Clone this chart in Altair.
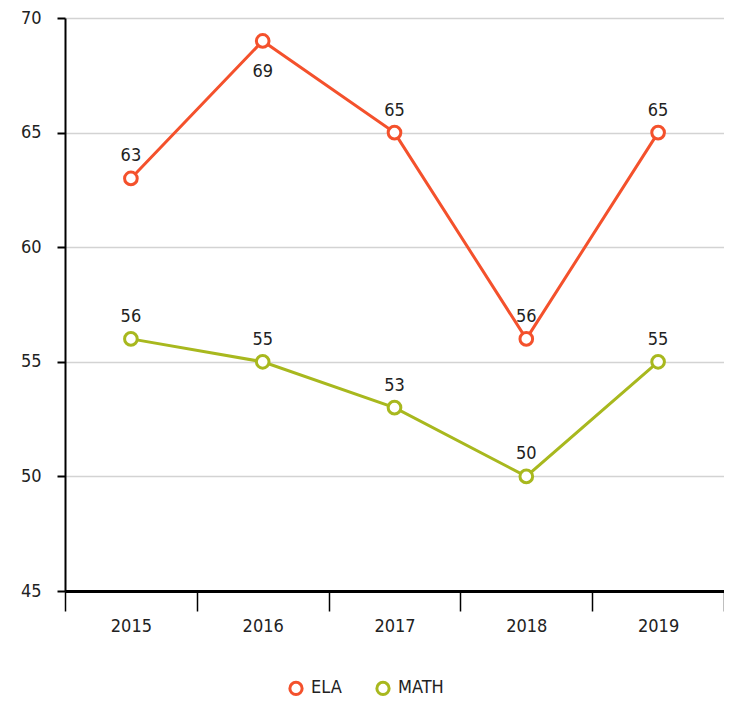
import altair as alt
import pandas as pd

years = ["2015", "2016", "2017", "2018", "2019"]
ela = [63, 69, 65, 56, 65]
math = [56, 55, 53, 50, 55]
ela_label_pos = ["above", "below", "above", "above", "above"]
math_label_pos = ["above", "above", "above", "above", "above"]

rows = []
for y, v, p in zip(years, ela, ela_label_pos):
    rows.append({"year": y, "value": v, "subject": "ELA", "pos": p})
for y, v, p in zip(years, math, math_label_pos):
    rows.append({"year": y, "value": v, "subject": "MATH", "pos": p})
df = pd.DataFrame(rows)

FONT = "DejaVu Sans Condensed, DejaVu Sans Mono"
FS = 18
color = alt.Color(
    "subject:N",
    scale=alt.Scale(domain=["ELA", "MATH"], range=["#f4512c", "#a8b81e"]),
    legend=alt.Legend(
        title=None, orient="none", direction="horizontal",
        legendX=222, legendY=661,
        symbolType="circle", symbolStrokeWidth=3, symbolSize=150,
        symbolFillColor="white", labelFontSize=FS, labelFont=FONT,
        labelColor="#222", columnPadding=28, labelOffset=6,
    ),
)

x = alt.X(
    "year:N", sort=years, title=None,
    axis=alt.Axis(
        labelAngle=0, tickBand="extent", tickSize=20, tickColor="#000",
        tickWidth=1.5, domainColor="#000", domainWidth=3, grid=False,
        labelFontSize=FS, labelFont=FONT, labelColor="#222", labelPadding=6,
    ),
    scale=alt.Scale(paddingInner=0, paddingOuter=0),
)
y = alt.Y(
    "value:Q", title=None,
    scale=alt.Scale(domain=[45, 70], nice=False, zero=False),
    axis=alt.Axis(
        values=[45, 50, 55, 60, 65, 70], tickSize=8, tickColor="#000",
        tickWidth=2, domainColor="#000", domainWidth=2, grid=True,
        gridColor="#d3d3d3", gridWidth=1.5, labelFontSize=FS, labelFont=FONT,
        labelColor="#222", labelPadding=16,
    ),
)

base = alt.Chart(df).encode(x=x, y=y, color=color)
lines = base.mark_line(strokeWidth=3)
points = base.mark_point(filled=False, fill="white", size=160, strokeWidth=3, opacity=1)
above = base.mark_text(dy=-22, fontSize=FS, font=FONT, color="#222").encode(
    text="value:Q", color=alt.value("#222")
).transform_filter(alt.datum.pos == "above")
below = base.mark_text(dy=31, fontSize=FS, font=FONT, color="#222").encode(
    text="value:Q", color=alt.value("#222")
).transform_filter(alt.datum.pos == "below")

chart = alt.layer(lines, points, above, below).properties(
    width=659, height=573,
    autosize=alt.AutoSizeParams(type="none"),
    padding={"left": 57, "top": 10, "right": 0, "bottom": 108},
).configure_view(stroke=None)

chart.save("out.html", embed_options={"renderer": "svg", "actions": False})
